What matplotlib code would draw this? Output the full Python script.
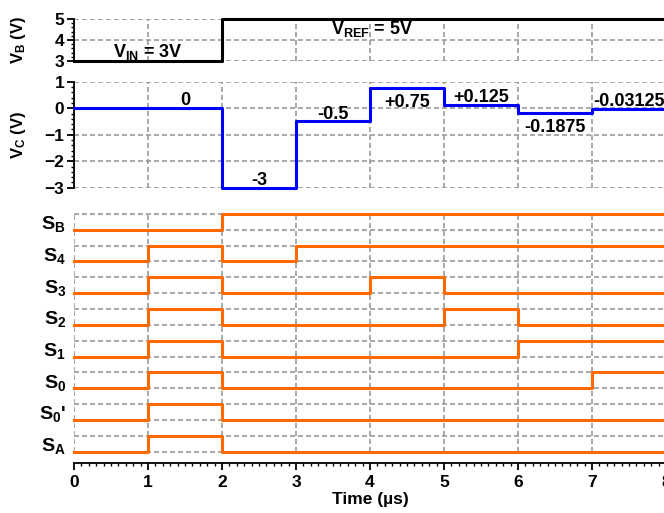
import numpy as np
import matplotlib
matplotlib.use('Agg')
import matplotlib.pyplot as plt
from matplotlib.ticker import MultipleLocator

plt.rcParams['font.family'] = ['Liberation Sans', 'DejaVu Sans']
plt.rcParams['font.weight'] = 'bold'
plt.rcParams['axes.labelweight'] = 'bold'
plt.rcParams['mathtext.fontset'] = 'custom'
plt.rcParams['mathtext.rm'] = 'Liberation Sans:bold'
plt.rcParams['mathtext.it'] = 'Liberation Sans:bold'
plt.rcParams['mathtext.bf'] = 'Liberation Sans:bold'

#--data--------------------------------------------------------
t_edges = np.arange(9)                  # us, one step per microsecond
vb = [3, 3, 5, 5, 5, 5, 5, 5]
vc = [0, 0, -3, -0.5, 0.75, 0.125, -0.1875, -0.03125]
vc_labels = ['0', '-3', '-0.5', '+0.75', '+0.125', '-0.1875', '-0.03125']
vc_label_above = [True, True, True, False, True, False, True]

sig_names = ['$S_B$', '$S_4$', '$S_3$', '$S_2$', '$S_1$', '$S_0$', "$S_0$'", '$S_A$']
sig_vals = [
    [0, 0, 1, 1, 1, 1, 1, 1],   # SB
    [0, 1, 0, 1, 1, 1, 1, 1],   # S4
    [0, 1, 0, 0, 1, 0, 0, 0],   # S3
    [0, 1, 0, 0, 0, 1, 0, 0],   # S2
    [0, 1, 0, 0, 0, 0, 1, 1],   # S1
    [0, 1, 0, 0, 0, 0, 0, 1],   # S0
    [0, 1, 0, 0, 0, 0, 0, 0],   # S0'
    [0, 1, 0, 0, 0, 0, 0, 0],   # SA
]

grid_kw = dict(color='#999999', linestyle=(0, (3, 1.8)), linewidth=1.2)
orange = '#ff6a00'

def steps(v):
    return np.append(v, v[-1])

fig = plt.figure(figsize=(6.64, 5.13), dpi=100)
W = 664.0
H = 513.0
def pos(top, bottom):
    return [74 / W, 1 - bottom / H, 592 / W, (bottom - top) / H]

#--V_B----------------------------------------------------------
ax1 = fig.add_axes(pos(19, 61))
ax1.step(t_edges, steps(vb), where='post', color='black', lw=2.2, clip_on=False, zorder=3)
ax1.set_xlim(0, 8)
ax1.set_ylim(3, 5)
ax1.set_yticks([3, 4, 5])
ax1.yaxis.set_minor_locator(MultipleLocator(0.2))
ax1.set_xticks(range(9))
ax1.tick_params(axis='x', length=0, labelbottom=False)
ax1.grid(True, **grid_kw)
ax1.text(1.0, 3.44, '$V_{IN}$ = 3V', ha='center', va='center', fontsize=13)
ax1.text(4.03, 4.52, '$V_{REF}$ = 5V', ha='center', va='center', fontsize=13)
ax1.set_ylabel('$V_B$ (V)', fontsize=12)

#--V_C----------------------------------------------------------
ax2 = fig.add_axes(pos(81.7, 187.7))
ax2.step(t_edges, steps(vc), where='post', color='#0000ff', lw=2.2, clip_on=False, zorder=3)
ax2.set_xlim(0, 8)
ax2.set_ylim(-3, 1)
ax2.set_yticks([-3, -2, -1, 0, 1])
ax2.yaxis.set_minor_locator(MultipleLocator(0.2))
ax2.set_xticks(range(9))
ax2.tick_params(axis='x', length=0, labelbottom=False)
ax2.grid(True, **grid_kw)
for i, (lab, above) in enumerate(zip(vc_labels, vc_label_above)):
    x = i + 1.5
    y = vc[i + 1]
    ax2.annotate(lab, (x, y), xytext=(0, 2 if above else -13.5),
                 textcoords='offset points', ha='center', va='baseline',
                 fontsize=13, annotation_clip=False)
ax2.set_ylabel('$V_C$ (V)', fontsize=12)

for ax in (ax1, ax2):
    for s in ('top', 'right', 'bottom'):
        ax.spines[s].set_visible(False)
    ax.spines['left'].set_linewidth(1.3)
    ax.tick_params(axis='y', which='major', direction='out', length=5, width=1.3,
                   labelsize=12.5, pad=2)
    ax.tick_params(axis='y', which='minor', direction='out', length=2.5, width=1)
    ax.set_axisbelow(True)
    ax.yaxis.set_label_coords(-0.078, 0.5)

#--digital signals-----------------------------------------------
ax3 = fig.add_axes(pos(209.2, 462.7))
n = len(sig_names)
ax3.hlines(np.arange(2 * n), 0, 8, **grid_kw, zorder=1)
ax3.vlines(range(9), 0, 2 * n - 1, **grid_kw, zorder=1)
for k, (name, vals) in enumerate(zip(sig_names, sig_vals)):
    base = 2 * (n - 1 - k)
    ax3.step(t_edges, base + steps(vals), where='post', color=orange, lw=2.2,
             clip_on=False, zorder=3)
ax3.set_yticks([2 * (n - 1 - k) + 0.5 for k in range(n)], sig_names, fontsize=14)
ax3.tick_params(axis='y', length=0, pad=6)
ax3.set_xlim(0, 8)
ax3.set_ylim(-0.7, 2 * n - 0.7)
ax3.set_xticks(range(9))
ax3.xaxis.set_minor_locator(MultipleLocator(0.1))
ax3.tick_params(axis='x', which='major', direction='out', length=5, width=1.3,
                labelsize=12.5, pad=4)
ax3.tick_params(axis='x', which='minor', direction='out', length=2.5, width=1)
for s in ('top', 'right', 'left'):
    ax3.spines[s].set_visible(False)
ax3.spines['bottom'].set_linewidth(1.3)
ax3.set_xlabel('Time (µs)', fontsize=12.5, labelpad=1)

fig.savefig('out.png', dpi=100)
